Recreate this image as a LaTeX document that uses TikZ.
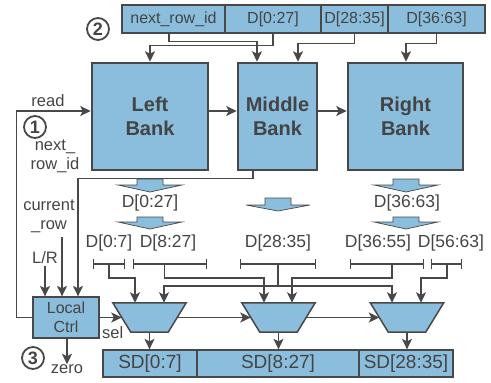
\documentclass[tikz,border=0pt]{standalone}
\usepackage{fontspec}
\setmainfont{Liberation Sans}
\usetikzlibrary{arrows.meta,calc}
\definecolor{bfill}{RGB}{139,190,221}
\definecolor{lc}{RGB}{72,72,72}
\definecolor{tc}{RGB}{68,68,68}
\tikzset{
  wire/.style={draw=lc, line width=1.5pt},
  arr/.style={wire, -{Stealth[length=10.5pt,width=10pt,inset=2.5pt]}},
  bank/.style={draw=lc, fill=bfill, line width=2.6pt, inner sep=0pt, text=tc,
     font=\bfseries\fontsize{20}{24}\selectfont, align=center},
  cell/.style={draw=lc, fill=bfill, line width=1.3pt, inner sep=0pt, text=tc},
  lbl/.style={text=tc, inner sep=0pt, align=center, font=\fontsize{16.5}{19}\selectfont},
  blbl/.style={text=tc, inner sep=0pt, font=\fontsize{17.5}{19}\selectfont},
  brk/.style={inner sep=0pt, minimum height=0pt},
  brkline/.style={wire, {Bar[width=10pt]}-{Bar[width=10pt]}},
  muxbox/.style={inner sep=0pt, minimum width=73pt, minimum height=29pt},
  muxst/.style={draw=lc, fill=bfill, line width=1.5pt, line join=miter},
  num/.style={circle, draw=lc, line width=1.8pt, minimum size=22pt, inner sep=0pt, text=tc,
     font=\bfseries\fontsize{18}{18}\selectfont},
  blk/.style={draw=lc, fill=bfill, line width=0.7pt}
}
\begin{document}
\begin{tikzpicture}[x=1pt,y=-1pt]
\useasboundingbox (0,0) rectangle (491,383);
% top bar
\begin{scope}[every node/.style={cell, minimum height=28pt, font=\fontsize{16}{18}\selectfont}]
\node[minimum width=103pt] (c1) at (173.5,19) {next\_row\_id};
\node[minimum width=96pt] (c2) at (273,19) {D[0:27]};
\node[minimum width=67pt] (c3) at (354.5,19) {D[28:35]};
\node[minimum width=97pt] (c4) at (436.5,19) {D[36:63]};
\end{scope}
\node[num] (n2) at (98,29) {2};
% banks
\node[bank, minimum width=116pt, minimum height=107pt] (L) at (150,116.5) {Left\\Bank};
\node[bank, minimum width=79pt, minimum height=107pt] (M) at (277.5,116.5) {Middle\\Bank};
\node[bank, minimum width=115pt, minimum height=107pt] (R) at (405.5,116.5) {Right\\Bank};
% top wiring
\draw[arr] ([xshift=-4.5pt]c1.south) -- ++(0,8) -| ([xshift=-20.5pt]M.north);
\draw[arr] (c2.south) -- ++(0,12) -| (L.north);
\draw[arr] (c3.south) -- ++(0,10) -| ([xshift=20.5pt]M.north);
\draw[arr] (c4.south) -- ++(0,10) -| ([xshift=0.5pt]R.north);
\draw[arr] ([yshift=5.5pt]L.east) -- ([yshift=5.5pt]M.west);
\draw[arr] ([yshift=5.5pt]M.east) -- ([yshift=5.5pt]R.west);
% local ctrl
\node[cell, minimum width=66pt, minimum height=41pt, align=center,
      font=\fontsize{16}{19}\selectfont] (LC) at (66,317.5) {Local\\Ctrl};
\node[lbl] (read) at (48,101) {read};
\node[num] (n1) at (35,127) {1};
\node[lbl] (nri) at (55,156) {next\_\\row\_id};
\node[lbl] (cur) at (49,216) {current\\\_row};
\node[lbl] (lr) at (45,258) {L/R};
\coordinate (curend) at (62,237);
\draw[arr] (LC.west) -- ++(-16,0) |- ([yshift=5.5pt]L.west);
\draw[arr] ([xshift=-24.5pt]M.south) -- ++(0,7) -| ([xshift=12pt]LC.north);
\draw[arr] (curend) -- (curend |- LC.north);
\draw[arr] ([yshift=-2pt]lr.south) -- (lr.south |- LC.north);
\node[lbl] (zero) at (67,369) {zero};
\node[num] (n3) at (33,358) {3};
\draw[arr] ([xshift=1pt]LC.south) -- ([xshift=0pt]zero.north);
\node[lbl, anchor=west] (sel) at (102,333) {sel};
% block arrows
\foreach \cx/\t/\b/\p in {150/179/185/192, 150/217/222/229, 406/179/185/192, 406/217/222/229, 278/198/205/211}{
  \draw[blk] (\cx-13,\t) -- (\cx+13,\t) -- (\cx+13,\b) -- (\cx+32,\b) -- (\cx,\p) -- (\cx-32,\b) -- (\cx-13,\b) -- cycle;
}
\node[blbl] (d027) at (150,203) {D[0:27]};
\node[blbl] (d3663) at (407,203) {D[36:63]};
% brackets
\node[brk, minimum width=32pt] (b1) at (109,264) {};
\node[brk, minimum width=74pt] (b2) at (170,264) {};
\node[brk, minimum width=76pt] (b3) at (278,264) {};
\node[brk, minimum width=74pt] (b4) at (387,264) {};
\node[brk, minimum width=31pt] (b5) at (446.5,264) {};
\foreach \b in {b1,b2,b3,b4,b5}{\draw[brkline] (\b.west) -- (\b.east);}
\node[blbl] (l1) at (109,243) {D[0:7]};
\node[blbl] (l2) at (168,243) {D[8:27]};
\node[blbl] (l3) at (278,243) {D[28:35]};
\node[blbl] (l4) at (378,243) {D[36:55]};
\node[blbl] (l5) at (451,243) {D[56:63]};
% muxes
\node[muxbox] (m1) at (149.5,317.5) {};
\node[muxbox] (m2) at (278.5,317.5) {};
\node[muxbox] (m3) at (407,317.5) {};
\foreach \m in {m1,m2,m3}{
  \draw[muxst] (\m.north west) -- (\m.north east) -- ([xshift=-18pt]\m.south east) -- ([xshift=18pt]\m.south west) -- cycle;
}
% SD bar
\begin{scope}[every node/.style={cell, minimum height=27pt, font=\fontsize{19}{21}\selectfont}]
\node[minimum width=94pt] (s1) at (150,363.5) {SD[0:7]};
\node[minimum width=162pt] (s2) at (278,363.5) {SD[8:27]};
\node[minimum width=94pt] (s3) at (406,363.5) {SD[28:35]};
\end{scope}
% bracket to mux wiring
\draw[arr] (b1.center) -- ++(0,14) -| ([xshift=-14.5pt]m1.north);
\draw[arr] ([xshift=-5.5pt]b2.center) -- ++(0,14) -| ([xshift=-14.5pt]m2.north);
\draw[arr] (b3.center) -- ++(0,22) -| ([xshift=14.5pt]m1.north);
\draw[arr] (b3.center) -- ++(0,22) -| ([xshift=-15pt]m3.north);
\draw[arr] ([xshift=5pt]b4.center) -- ++(0,14) -| ([xshift=13.5pt]m2.north);
\draw[arr] ([xshift=0.5pt]b5.center) -- ++(0,14) -| ([xshift=14pt]m3.north);
% mux chain
\draw[arr] (LC.east) -- ([xshift=9pt]m1.west);
\draw[arr] ([xshift=-9pt]m1.east) -- ([xshift=9pt]m2.west);
\draw[arr] ([xshift=-9pt]m2.east) -- ([xshift=9pt]m3.west);
\draw[arr] (m1.south) -- (m1.south |- s1.north);
\draw[arr] (m2.south) -- (m2.south |- s2.north);
\draw[arr] (m3.south) -- (m3.south |- s3.north);
\end{tikzpicture}
\end{document}
